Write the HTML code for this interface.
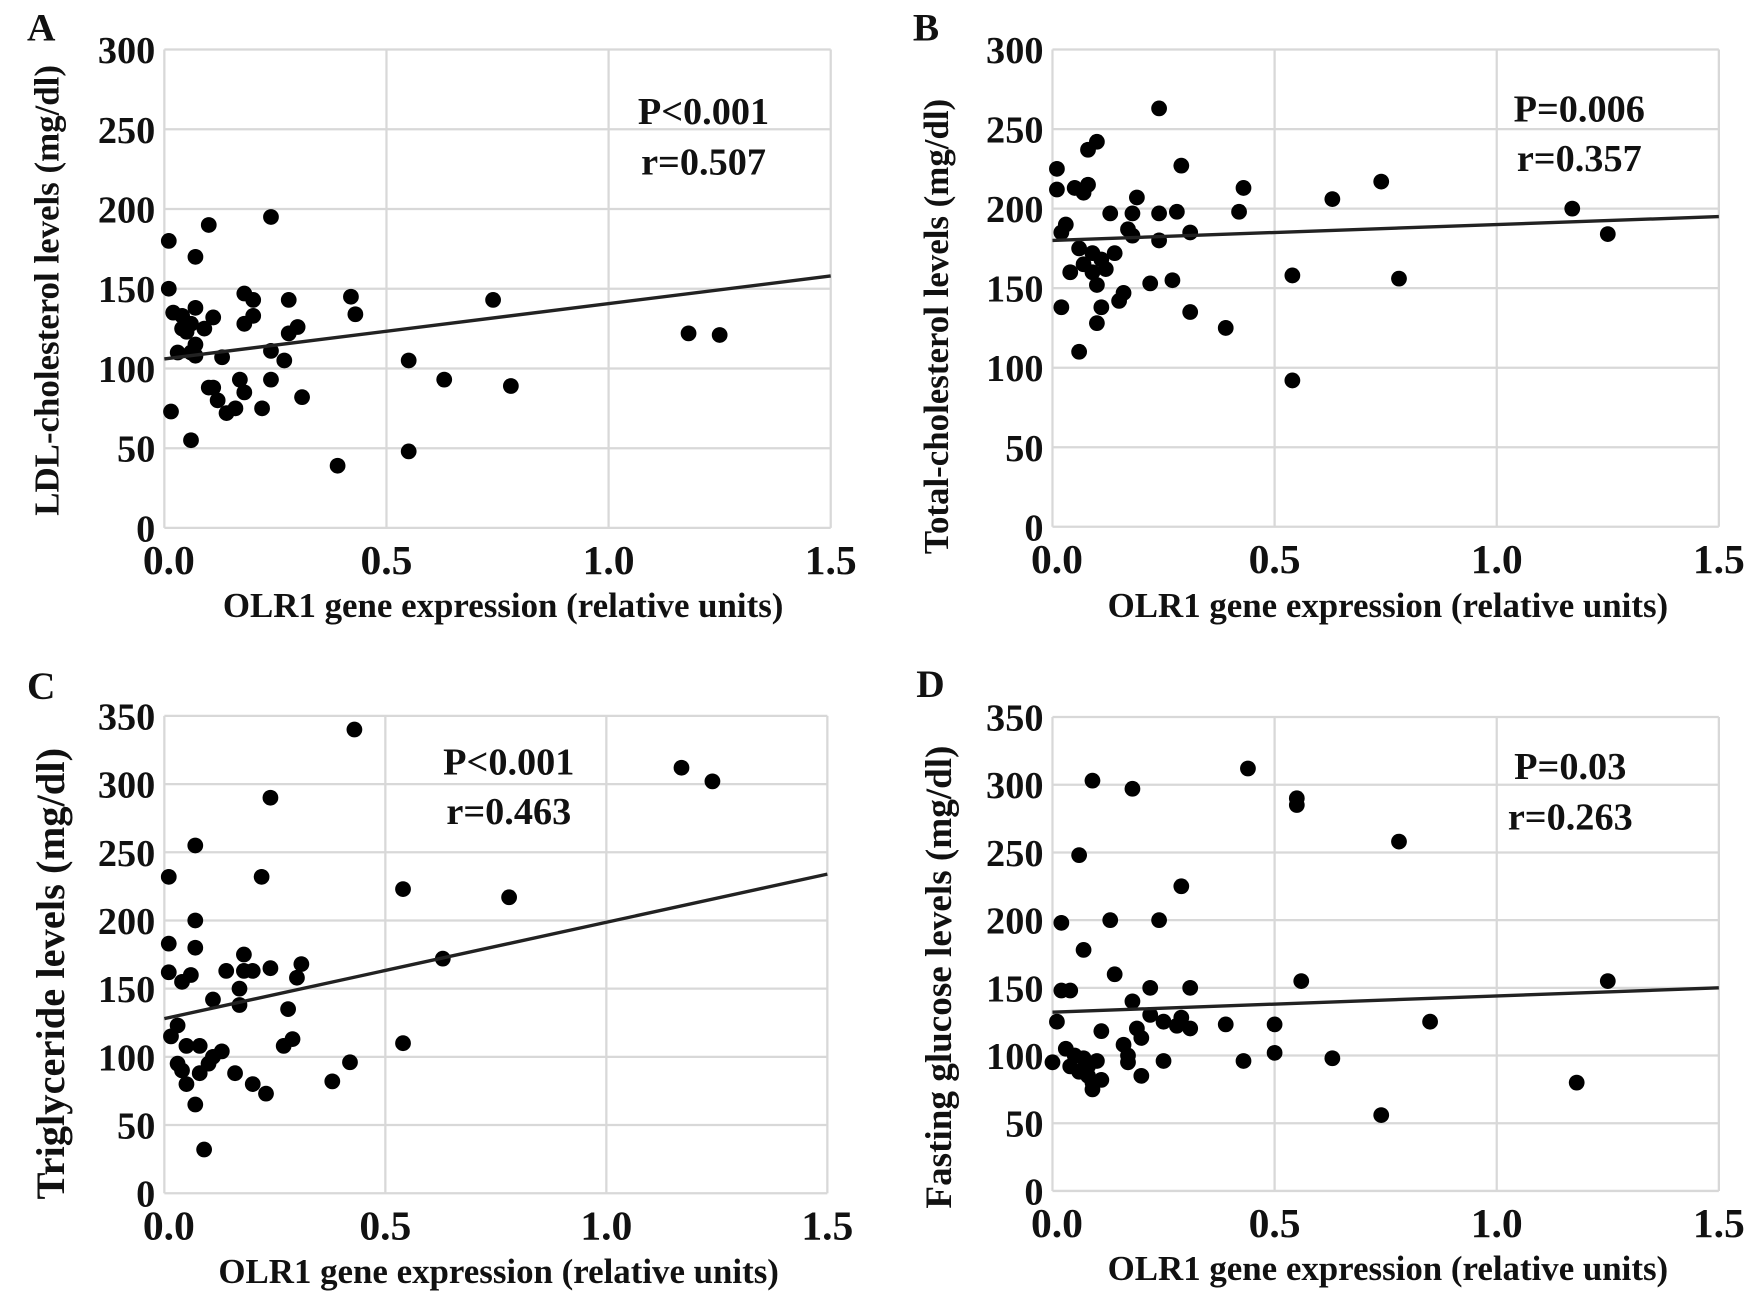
<!DOCTYPE html>
<html><head><meta charset="utf-8"><style>
html,body{margin:0;padding:0;background:#fff;}
svg{display:block;}
text{font-family:"Liberation Serif",serif;font-weight:bold;fill:#111;}
</style></head><body>
<svg id="fig" width="1756" height="1299" viewBox="0 0 1560 1154" preserveAspectRatio="none" xmlns="http://www.w3.org/2000/svg"></svg>
<script>
const xTicks=[0,0.5,1.0,1.5];
const xTickLabels=["0.0","0.5","1.0","1.5"];
const yTicksAB=[0,50,100,150,200,250,300];
const yTicksCD=[0,50,100,150,200,250,300,350];
const ldlX=[0.01,0.01,0.02,0.015,0.04,0.04,0.05,0.06,0.03,0.06,0.07,0.07,0.07,0.06,0.07,0.1,0.09,0.1,0.11,0.12,0.11,0.13,0.14,0.16,0.17,0.18,0.18,0.18,0.2,0.2,0.22,0.24,0.24,0.24,0.27,0.28,0.28,0.3,0.31,0.39,0.42,0.43,0.55,0.55,0.63,0.74,0.78,1.18,1.25];
const ldlY=[180,150,135,73,133,125,123,128,110,110,138,115,108,55,170,190,125,88,88,80,132,107,72,75,93,85,128,147,143,133,75,195,111,93,105,143,122,126,82,39,145,134,105,48,93,143,89,122,121];
const tcX=[0.01,0.01,0.02,0.02,0.03,0.04,0.05,0.06,0.06,0.07,0.07,0.08,0.08,0.09,0.09,0.1,0.1,0.11,0.11,0.1,0.12,0.13,0.14,0.15,0.16,0.17,0.18,0.18,0.19,0.22,0.24,0.24,0.24,0.27,0.28,0.29,0.31,0.31,0.39,0.42,0.43,0.54,0.54,0.63,0.74,0.78,1.17,1.25];
const tcY=[225,212,138,185,190,160,213,110,175,165,210,215,237,160,172,152,128,138,168,242,162,197,172,142,147,187,183,197,207,153,263,197,180,155,198,227,185,135,125,198,213,158,92,206,217,156,200,184];
const tgX=[0.01,0.01,0.01,0.015,0.03,0.03,0.04,0.04,0.05,0.05,0.06,0.07,0.07,0.07,0.07,0.08,0.08,0.09,0.1,0.11,0.11,0.13,0.14,0.16,0.17,0.17,0.18,0.18,0.2,0.2,0.22,0.23,0.24,0.24,0.27,0.28,0.29,0.3,0.31,0.38,0.42,0.43,0.54,0.54,0.63,0.78,1.17,1.24];
const tgY=[183,162,232,115,123,95,90,155,108,80,160,180,200,255,65,88,108,32,95,100,142,104,163,88,150,138,175,163,80,163,232,73,290,165,108,135,113,158,168,82,96,340,223,110,172,217,312,302];
const fgX=[0.0,0.01,0.02,0.02,0.04,0.03,0.04,0.05,0.06,0.06,0.07,0.07,0.08,0.08,0.09,0.09,0.1,0.09,0.11,0.11,0.13,0.14,0.16,0.17,0.17,0.18,0.18,0.19,0.2,0.2,0.22,0.22,0.24,0.25,0.25,0.28,0.29,0.29,0.31,0.31,0.39,0.43,0.44,0.5,0.5,0.55,0.55,0.56,0.63,0.74,0.78,0.85,1.18,1.25];
const fgY=[95,125,198,148,148,105,92,100,88,248,178,98,92,85,80,75,96,303,82,118,200,160,108,100,95,297,140,120,113,85,150,130,200,125,96,122,225,128,150,120,123,96,312,123,102,290,285,155,98,56,258,125,80,155];
const fitA=[106,158], fitB=[180,195], fitC=[128,234], fitD=[132,150];

const svg=document.getElementById('fig');
const NS='http://www.w3.org/2000/svg';
function mk(tag,attrs,parent){const e=document.createElementNS(NS,tag);for(const k in attrs)e.setAttribute(k,attrs[k]);(parent||svg).appendChild(e);return e;}

const panels=[
 {id:'a',L:'A',lx:24,ly:36,x0:146,x1:738,y0:469,y1:44,ymax:300,yt:yTicksAB,xs:ldlX,ys:ldlY,fit:fitA,
  stat:['P<0.001','r=0.507'],sx:625,sy:[110,155],ytitle:'LDL-cholesterol levels (mg/dl)',ytx:52,yty:258,yfs:31,xtitle:'OLR1 gene expression (relative units)',xtx:447,xty:548},
 {id:'b',L:'B',lx:811,ly:36,x0:935,x1:1527,y0:468,y1:44,ymax:300,yt:yTicksAB,xs:tcX,ys:tcY,fit:fitB,
  stat:['P=0.006','r=0.357'],sx:1403,sy:[108,152],ytitle:'Total-cholesterol levels (mg/dl)',ytx:842,yty:290,yfs:31,xtitle:'OLR1 gene expression (relative units)',xtx:1233,xty:548},
 {id:'c',L:'C',lx:24,ly:621,x0:146,x1:735,y0:1060,y1:636,ymax:350,yt:yTicksCD,xs:tgX,ys:tgY,fit:fitC,
  stat:['P<0.001','r=0.463'],sx:452,sy:[688,732],ytitle:'Triglyceride levels (mg/dl)',ytx:57,yty:865,yfs:36,xtitle:'OLR1 gene expression (relative units)',xtx:443,xty:1140},
 {id:'d',L:'D',lx:814,ly:619,x0:935,x1:1527,y0:1058,y1:637,ymax:350,yt:yTicksCD,xs:fgX,ys:fgY,fit:fitD,
  stat:['P=0.03','r=0.263'],sx:1395,sy:[692,737],ytitle:'Fasting glucose levels (mg/dl)',ytx:845,yty:868,yfs:33,xtitle:'OLR1 gene expression (relative units)',xtx:1233,xty:1137}
];
panels.forEach(p=>{
  const g=mk('g',{});
  
  
  const X=v=>p.x0+(p.x1-p.x0)*v/1.5;
  const Y=v=>p.y0-(p.y0-p.y1)*v/p.ymax;
  const lt=mk('text',{x:p.lx,y:p.ly,'font-size':35},g);lt.textContent=p.L;
  
  
  p.yt.forEach(v=>{
    const gl=mk('line',{x1:X(0),x2:X(1.5),y1:Y(v),y2:Y(v),stroke:'#d8d8d8','stroke-width':2},g);
    
    
    const t=mk('text',{x:p.x0-8,y:Y(v)+12,'font-size':34,'text-anchor':'end'},g);t.textContent=v;
    
    
  });
  xTicks.forEach((v,i)=>{
    const gl=mk('line',{x1:X(v),x2:X(v),y1:Y(0),y2:Y(p.ymax),stroke:'#d8d8d8','stroke-width':2},g);
    
    
    const t=mk('text',{x:X(v)+(i==0?4:0),y:p.y0+41,'font-size':37,'text-anchor':'middle'},g);t.textContent=xTickLabels[i];
    
    
  });
  p.xs.forEach((xv,i)=>{
    const c=mk('circle',{cx:X(xv),cy:Y(p.ys[i]),r:7,fill:'#000'},g);
    
    
  });
  const fl=mk('line',{x1:X(0),y1:Y(p.fit[0]),x2:X(1.5),y2:Y(p.fit[1]),stroke:'#222','stroke-width':3},g);
  
  
  p.stat.forEach((s,i)=>{
    const t=mk('text',{x:p.sx,y:p.sy[i],'font-size':34,'text-anchor':'middle'},g);t.textContent=s;
    
    
  });
  const yt=mk('text',{x:p.ytx,y:p.yty,'font-size':p.yfs,'text-anchor':'middle',transform:'rotate(-90 '+p.ytx+' '+p.yty+')'},g);yt.textContent=p.ytitle;
  
  
  const xt=mk('text',{x:p.xtx,y:p.xty,'font-size':31,'text-anchor':'middle'},g);xt.textContent=p.xtitle;
  
  
});
</script>
</body></html>
